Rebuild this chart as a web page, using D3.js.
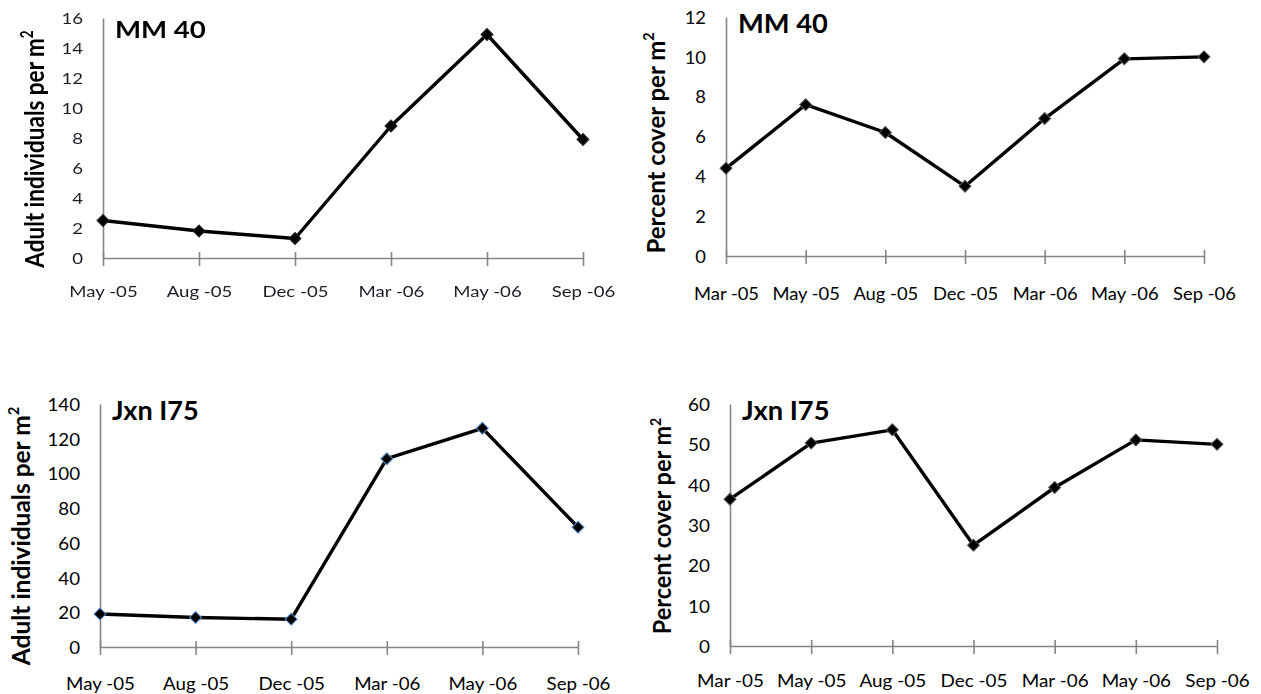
<!DOCTYPE html>
<html>
<head>
<meta charset="utf-8">
<script src="https://cdn.jsdelivr.net/npm/d3@7"></script>
<style>
  html, body { margin: 0; padding: 0; background: #fff; }
  svg { display: block; }
  text { font-family: Lato, "Open Sans", sans-serif; }
</style>
</head>
<body>
<svg id="chart" width="1261" height="694"></svg>
<script>
// Sampling dates
const adultDates = ["May -05", "Aug -05", "Dec -05", "Mar -06", "May -06", "Sep -06"];
const coverDates = ["Mar -05", "May -05", "Aug -05", "Dec -05", "Mar -06", "May -06", "Sep -06"];

// MM 40 site
const mm40Adults = [2.5, 1.8, 1.3, 8.8, 14.9, 7.9];
const mm40Cover  = [4.4, 7.6, 6.2, 3.5, 6.9, 9.9, 10.0];

// Jxn I75 site
const jxnAdults = [19, 17, 16, 108.5, 126, 69];
const jxnCover  = [36.4, 50.3, 53.6, 25.0, 39.3, 51.1, 50.0];

// Axis tick values
const mm40AdultTicks = [0, 2, 4, 6, 8, 10, 12, 14, 16];
const mm40CoverTicks = [0, 2, 4, 6, 8, 10, 12];
const jxnAdultTicks  = [0, 20, 40, 60, 80, 100, 120, 140];
const jxnCoverTicks  = [0, 10, 20, 30, 40, 50, 60];

const adultLabel = "Adult individuals per m";
const coverLabel = "Percent cover per m";

const svg = d3.select("#chart");

const defs = svg.append("defs");
defs.append("filter").attr("id", "soft")
  .attr("x", "-5%").attr("y", "-5%").attr("width", "110%").attr("height", "110%")
  .append("feGaussianBlur").attr("stdDeviation", 0.5);

function drawPanel(cfg) {
  const g = svg.append("g");
  if (cfg.soft) g.attr("filter", "url(#soft)");

  const x = d3.scalePoint().domain(cfg.dates).range([cfg.left, cfg.right]).padding(0);
  const y = d3.scaleLinear().domain([0, d3.max(cfg.ticks)]).range([cfg.bottom, cfg.top]);
  const sx = cfg.stretch;

  // category axis
  const xa = g.append("g")
    .attr("transform", `translate(0,${cfg.bottom})`)
    .call(d3.axisBottom(x).tickSizeOuter(0).tickSizeInner(8));
  xa.select(".domain").attr("stroke", "#868686").attr("stroke-width", 1.6);
  xa.selectAll(".tick line").attr("stroke", "#868686").attr("stroke-width", 1.6)
    .attr("y1", -6).attr("y2", 8);
  xa.selectAll(".tick text")
    .attr("y", 0).attr("dy", 0)
    .attr("transform", `translate(0,${cfg.xLabelY}) scale(${sx},1)`)
    .attr("fill", cfg.textColor)
    .style("font-size", cfg.tickSize + "px");

  // value axis
  const ya = g.append("g")
    .attr("transform", `translate(${cfg.left},0)`)
    .call(d3.axisLeft(y).tickValues(cfg.ticks).tickSize(0).tickPadding(0));
  ya.select(".domain").attr("stroke", "#868686").attr("stroke-width", 1.6);
  ya.selectAll(".tick text")
    .attr("x", 0).attr("dy", "0.36em")
    .attr("transform", `translate(-20,0) scale(${sx},1)`)
    .attr("fill", cfg.textColor)
    .style("font-size", cfg.tickSize + "px");

  // value axis title
  const t = g.append("text")
    .attr("transform", `translate(${cfg.titleX},${cfg.titleY}) scale(${sx},1) rotate(-90)`)
    .attr("text-anchor", "middle")
    .attr("font-weight", "bold")
    .attr("fill", "#000")
    .style("font-size", cfg.axisTitleSize + "px");
  t.append("tspan").text(cfg.axisTitle);
  t.append("tspan").text("2")
    .attr("dy", -cfg.axisTitleSize * 0.42)
    .style("font-size", (cfg.axisTitleSize * 0.6) + "px");

  // site name
  g.append("text")
    .attr("transform", `translate(${cfg.left + 12},${cfg.siteY}) scale(${sx},1)`)
    .attr("font-weight", "bold")
    .attr("fill", "#000")
    .style("font-size", cfg.siteSize + "px")
    .text(cfg.site);

  const pts = cfg.dates.map((d, i) => ({ d, v: cfg.values[i] }));

  g.append("path")
    .datum(pts)
    .attr("fill", "none")
    .attr("stroke", "#000")
    .attr("stroke-width", 3.4)
    .attr("stroke-linejoin", "round")
    .attr("d", d3.line().x(p => x(p.d)).y(p => y(p.v)));

  const diamond = d3.symbol().type(d3.symbolSquare).size(72);
  g.selectAll(".mark")
    .data(pts)
    .join("path")
    .attr("class", "mark")
    .attr("transform", p => `translate(${x(p.d)},${y(p.v)}) rotate(45)`)
    .attr("d", diamond)
    .attr("fill", "#000")
    .attr("stroke", cfg.markStroke)
    .attr("stroke-width", 1);
}

drawPanel({
  dates: adultDates, values: mm40Adults, ticks: mm40AdultTicks,
  left: 103, right: 583, top: 18, bottom: 258,
  stretch: 1.2, soft: true, textColor: "#1e1e28",
  tickSize: 15.5, xLabelY: 39,
  axisTitle: adultLabel, axisTitleSize: 22.5, titleX: 44, titleY: 149,
  site: "MM 40", siteSize: 23, siteY: 38,
  markStroke: "#222"
});

drawPanel({
  dates: coverDates, values: mm40Cover, ticks: mm40CoverTicks,
  left: 726, right: 1204, top: 17, bottom: 256,
  stretch: 1.05, soft: false, textColor: "#000",
  tickSize: 17.5, xLabelY: 44,
  axisTitle: coverLabel, axisTitleSize: 24, titleX: 665, titleY: 143,
  site: "MM 40", siteSize: 26, siteY: 33,
  markStroke: "#555"
});

drawPanel({
  dates: adultDates, values: jxnAdults, ticks: jxnAdultTicks,
  left: 100, right: 578, top: 404, bottom: 647,
  stretch: 1.04, soft: false, textColor: "#000",
  tickSize: 18, xLabelY: 43,
  axisTitle: adultLabel, axisTitleSize: 24.5, titleX: 30, titleY: 536,
  site: "Jxn I75", siteSize: 26, siteY: 420,
  markStroke: "#5b8fd0"
});

drawPanel({
  dates: coverDates, values: jxnCover, ticks: jxnCoverTicks,
  left: 730, right: 1217, top: 404, bottom: 646,
  stretch: 1.05, soft: false, textColor: "#000",
  tickSize: 18, xLabelY: 41,
  axisTitle: coverLabel, axisTitleSize: 23.5, titleX: 671, titleY: 526,
  site: "Jxn I75", siteSize: 26, siteY: 420,
  markStroke: "#555"
});
</script>
</body>
</html>
